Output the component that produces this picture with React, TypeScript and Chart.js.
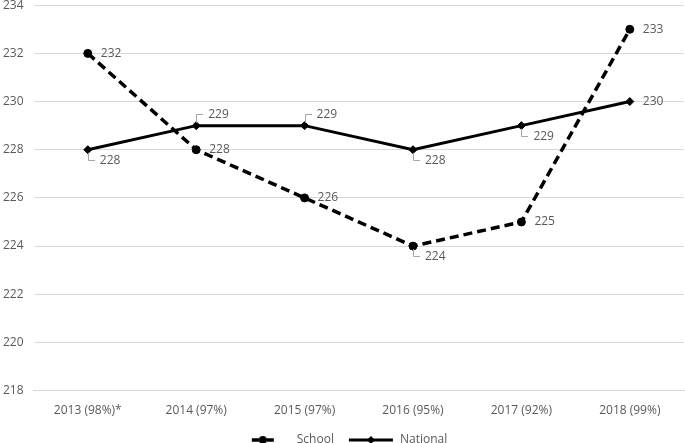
import React, { useEffect, useRef } from 'react';
import { Chart, registerables } from 'chart.js';

Chart.register(...registerables);

const categories = ['2013 (98%)*', '2014 (97%)', '2015 (97%)', '2016 (95%)', '2017 (92%)', '2018 (99%)'];
const schoolValues = [232, 228, 226, 224, 225, 233];
const nationalValues = [228, 229, 229, 228, 229, 230];
const yMin = 218;
const yMax = 234;
const yStep = 2;

// label placement per point (style, not data)
const schoolLabelPlacement = ['right', 'right', 'right', 'below', 'right', 'right'];
const nationalLabelPlacement = ['below', 'above', 'above', 'below', 'below', 'right'];

const FONT = "'Open Sans', sans-serif";
const TEXT_COLOR = '#595959';
const GRID_COLOR = '#d9d9d9';
const LEADER_COLOR = '#a6a6a6';
const LEGEND_W = 57;

function makeLegendImage(kind: 'school' | 'national'): HTMLCanvasElement {
  const c = document.createElement('canvas');
  c.width = LEGEND_W;
  c.height = 12;
  const ctx = c.getContext('2d')!;
  ctx.fillStyle = '#000';
  ctx.strokeStyle = '#000';
  if (kind === 'school') {
    ctx.lineWidth = 3.5;
    ctx.beginPath();
    ctx.moveTo(18, 6);
    ctx.lineTo(25, 6);
    ctx.moveTo(33, 6);
    ctx.lineTo(40, 6);
    ctx.stroke();
    ctx.beginPath();
    ctx.arc(29, 6, 4, 0, Math.PI * 2);
    ctx.fill();
  } else {
    ctx.lineWidth = 3;
    ctx.beginPath();
    ctx.moveTo(12, 6);
    ctx.lineTo(56, 6);
    ctx.stroke();
    ctx.beginPath();
    ctx.moveTo(34, 2);
    ctx.lineTo(38, 6);
    ctx.lineTo(34, 10);
    ctx.lineTo(30, 6);
    ctx.closePath();
    ctx.fill();
  }
  return c;
}

const dataLabelPlugin = {
  id: 'customDataLabels',
  afterDatasetsDraw(chart: any) {
    const ctx = chart.ctx;
    const placements = [schoolLabelPlacement, nationalLabelPlacement];
    ctx.save();
    ctx.font = `12px ${FONT}`;
    ctx.fillStyle = TEXT_COLOR;
    ctx.textBaseline = 'middle';
    ctx.textAlign = 'left';
    chart.data.datasets.forEach((ds: any, di: number) => {
      const meta = chart.getDatasetMeta(di);
      meta.data.forEach((pt: any, i: number) => {
        const x = pt.x;
        const y = pt.y;
        const text = String(ds.data[i]);
        const p = placements[di][i];
        if (p === 'right') {
          ctx.fillText(text, x + 13, y);
        } else {
          const dy = p === 'below' ? 10 : -12;
          ctx.strokeStyle = LEADER_COLOR;
          ctx.lineWidth = 1;
          ctx.beginPath();
          ctx.moveTo(Math.round(x) + 0.5, y + (p === 'below' ? 3 : -3));
          ctx.lineTo(Math.round(x) + 0.5, Math.round(y + dy) + 0.5);
          ctx.lineTo(Math.round(x) + 7, Math.round(y + dy) + 0.5);
          ctx.stroke();
          ctx.fillText(text, x + 12, y + dy + 1);
        }
      });
    });
    ctx.restore();
  },
};

export default function App() {
  const canvasRef = useRef<HTMLCanvasElement | null>(null);

  useEffect(() => {
    if (!canvasRef.current) return;
    const schoolImg = makeLegendImage('school');
    const nationalImg = makeLegendImage('national');
    const chart = new Chart(canvasRef.current, {
      type: 'line',
      data: {
        labels: categories,
        datasets: [
          {
            label: 'School',
            data: schoolValues,
            borderColor: '#000',
            backgroundColor: '#000',
            borderWidth: 3.5,
            borderDash: [9, 5],
            pointStyle: 'circle',
            pointRadius: 4,
            pointBackgroundColor: '#000',
            pointBorderColor: '#000',
            pointBorderWidth: 1,
            tension: 0,
            fill: false,
          },
          {
            label: 'National',
            data: nationalValues,
            borderColor: '#000',
            backgroundColor: '#000',
            borderWidth: 3,
            pointStyle: 'rectRot',
            pointRadius: 4,
            pointBackgroundColor: '#000',
            pointBorderColor: '#000',
            pointBorderWidth: 1,
            tension: 0,
            fill: false,
          },
        ],
      },
      options: {
        animation: false,
        responsive: false,
        layout: { padding: { left: 2, right: 1, top: 0, bottom: 0 } },
        scales: {
          x: {
            offset: true,
            grid: { display: false, drawTicks: false },
            border: { display: true, color: GRID_COLOR, width: 1 },
            ticks: {
              color: TEXT_COLOR,
              font: { family: FONT, size: 12 },
              padding: 13,
              maxRotation: 0,
              autoSkip: false,
            },
          },
          y: {
            min: yMin,
            max: yMax,
            grid: { color: GRID_COLOR, lineWidth: 1, drawTicks: false },
            border: { display: false },
            ticks: {
              stepSize: yStep,
              color: TEXT_COLOR,
              font: { family: FONT, size: 12 },
              padding: 10,
            },
          },
        },
        plugins: {
          tooltip: { enabled: false },
          legend: {
            position: 'bottom',
            labels: {
              usePointStyle: true,
              pointStyleWidth: LEGEND_W,
              color: TEXT_COLOR,
              font: { family: FONT, size: 12 },
              padding: 3,
              generateLabels: (ch: any) =>
                ch.data.datasets.map((ds: any, i: number) => ({
                  text: ds.label,
                  pointStyle: i === 0 ? schoolImg : nationalImg,
                  fillStyle: '#000',
                  strokeStyle: '#000',
                  lineWidth: 0,
                  hidden: false,
                  datasetIndex: i,
                  fontColor: TEXT_COLOR,
                })),
            },
          },
        },
      },
      plugins: [dataLabelPlugin],
    });
    return () => chart.destroy();
  }, []);

  return (
    <div style={{ position: 'fixed', left: -9, top: -12, width: 698, height: 468 }}>
      <canvas ref={canvasRef} width={698} height={468} style={{ display: 'block' }} />
    </div>
  );
}
